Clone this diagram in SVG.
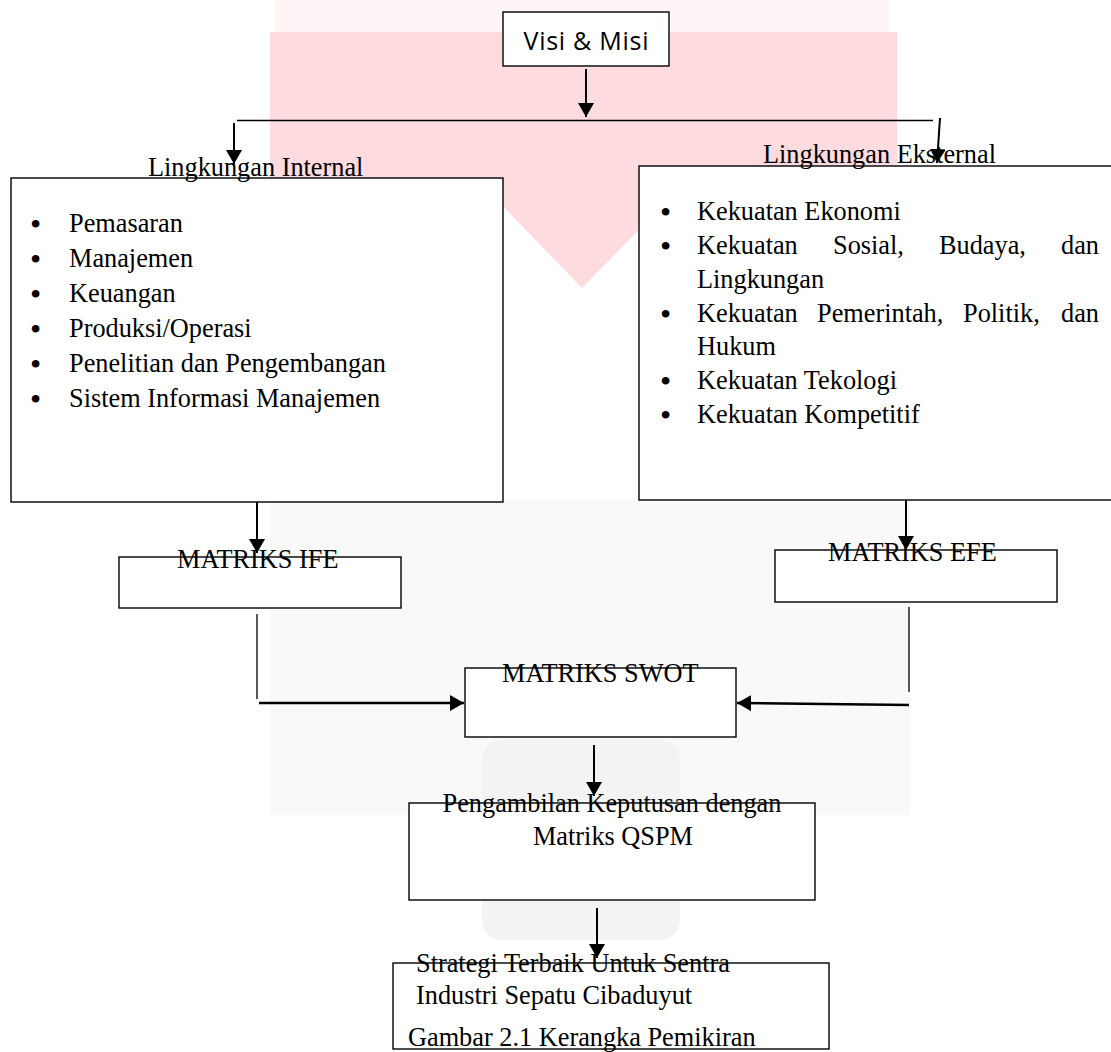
<svg xmlns="http://www.w3.org/2000/svg" width="1111" height="1052" viewBox="0 0 1111 1052">
<style>
  .box{fill:#fff;stroke:#000;stroke-width:1.4}
  .t{font-family:"Liberation Serif","Times New Roman",serif;font-size:26.3px;fill:#000}
  .b{font-size:32px}
  .s{font-family:"Open Sans","Liberation Sans",sans-serif;font-size:25px;fill:#000}
  .c{stroke:#000;stroke-width:2;fill:none}
  .thin{stroke:#000;stroke-width:1.3;fill:none}
  .thick{stroke:#000;stroke-width:2.6;fill:none}
</style>
<defs>
  <marker id="ah" viewBox="0 0 14 16" refX="14" refY="8" markerWidth="14" markerHeight="16" markerUnits="userSpaceOnUse" orient="auto">
    <path d="M0,0 L14,8 L0,16 z" fill="#000"/>
  </marker>
</defs>
<rect width="1111" height="1052" fill="#fff"/>
<g id="watermark">
  <rect x="275" y="0" width="615" height="34" fill="#fff5f6"/>
  <polygon points="270,32 897,32 897,178 668,200 582,288 497,200 270,178" fill="#fddbdf"/>
  <rect x="270" y="500" width="640" height="315" fill="#f9f9f9"/>
  <rect x="482" y="740" width="198" height="200" rx="20" fill="#f3f3f3"/>
</g>
<g id="visi-misi">
  <rect class="box" x="503" y="12" width="166" height="54"/>
  <text class="s" x="586" y="50" text-anchor="middle" textLength="125">Visi &amp; Misi</text>
</g>
<g id="lingkungan-internal">
  <rect class="box" x="11" y="178" width="492" height="324"/>
  <text class="t" x="148" y="176">Lingkungan Internal</text>
  <text class="t b" x="30" y="235">•</text><text class="t" x="69" y="232">Pemasaran</text>
  <text class="t b" x="30" y="270">•</text><text class="t" x="69" y="267">Manajemen</text>
  <text class="t b" x="30" y="305">•</text><text class="t" x="69" y="302">Keuangan</text>
  <text class="t b" x="30" y="340">•</text><text class="t" x="69" y="337">Produksi/Operasi</text>
  <text class="t b" x="30" y="375">•</text><text class="t" x="69" y="372">Penelitian dan Pengembangan</text>
  <text class="t b" x="30" y="410">•</text><text class="t" x="69" y="407">Sistem Informasi Manajemen</text>
</g>
<g id="lingkungan-eksternal">
  <rect class="box" x="639" y="166" width="480" height="334"/>
  <text class="t" x="763" y="163">Lingkungan Eksternal</text>
  <text class="t b" x="660" y="223">•</text><text class="t" x="697" y="220">Kekuatan Ekonomi</text>
  <text class="t b" x="660" y="257">•</text><text class="t"><tspan x="697" y="254">Kekuatan</tspan><tspan x="833" y="254">Sosial,</tspan><tspan x="939" y="254">Budaya,</tspan><tspan x="1061" y="254">dan</tspan></text>
  <text class="t" x="697" y="288">Lingkungan</text>
  <text class="t b" x="660" y="325">•</text><text class="t"><tspan x="697" y="322">Kekuatan</tspan><tspan x="817" y="322">Pemerintah,</tspan><tspan x="963" y="322">Politik,</tspan><tspan x="1061" y="322">dan</tspan></text>
  <text class="t" x="697" y="355">Hukum</text>
  <text class="t b" x="660" y="392">•</text><text class="t" x="697" y="389">Kekuatan Tekologi</text>
  <text class="t b" x="660" y="426">•</text><text class="t" x="697" y="423">Kekuatan Kompetitif</text>
</g>
<g id="matriks-ife">
  <rect class="box" x="119" y="557" width="282" height="51"/>
  <text class="t" x="177" y="568">MATRIKS IFE</text>
</g>
<g id="matriks-efe">
  <rect class="box" x="775" y="550" width="282" height="52"/>
  <text class="t" x="828" y="561">MATRIKS EFE</text>
</g>
<g id="matriks-swot">
  <rect class="box" x="465" y="668" width="271" height="69"/>
  <text class="t" x="502" y="682">MATRIKS SWOT</text>
</g>
<g id="matriks-qspm">
  <rect class="box" x="409" y="803" width="406" height="97"/>
  <text class="t" x="612" y="812" text-anchor="middle">Pengambilan Keputusan dengan</text>
  <text class="t" x="613" y="845" text-anchor="middle">Matriks QSPM</text>
</g>
<g id="strategi-terbaik">
  <rect class="box" x="393" y="963" width="436" height="86"/>
  <text class="t" x="416" y="972">Strategi Terbaik Untuk Sentra</text>
  <text class="t" x="416" y="1004">Industri Sepatu Cibaduyut</text>
  <text class="t" x="408" y="1046">Gambar 2.1 Kerangka Pemikiran</text>
</g>
<g id="connectors">
  <line class="c" x1="586" y1="69" x2="586" y2="117" marker-end="url(#ah)"/>
  <line class="thin" x1="237" y1="120.5" x2="933" y2="120.5"/>
  <line class="c" x1="234" y1="123" x2="234" y2="164" marker-end="url(#ah)"/>
  <line class="c" x1="940" y1="118" x2="937" y2="163" marker-end="url(#ah)"/>
  <line class="c" x1="257" y1="502" x2="257" y2="553" marker-end="url(#ah)"/>
  <line class="c" x1="906" y1="500" x2="906" y2="550" marker-end="url(#ah)"/>
  <line class="thin" x1="257" y1="614" x2="257" y2="699"/>
  <line class="thick" x1="259" y1="703" x2="464" y2="703" marker-end="url(#ah)"/>
  <line class="thin" x1="909" y1="607" x2="909" y2="692"/>
  <line class="thick" x1="909" y1="705" x2="737" y2="703" marker-end="url(#ah)"/>
  <line class="c" x1="594" y1="745" x2="594" y2="796" marker-end="url(#ah)"/>
  <line class="c" x1="597" y1="908" x2="597" y2="958" marker-end="url(#ah)"/>
</g>
</svg>
